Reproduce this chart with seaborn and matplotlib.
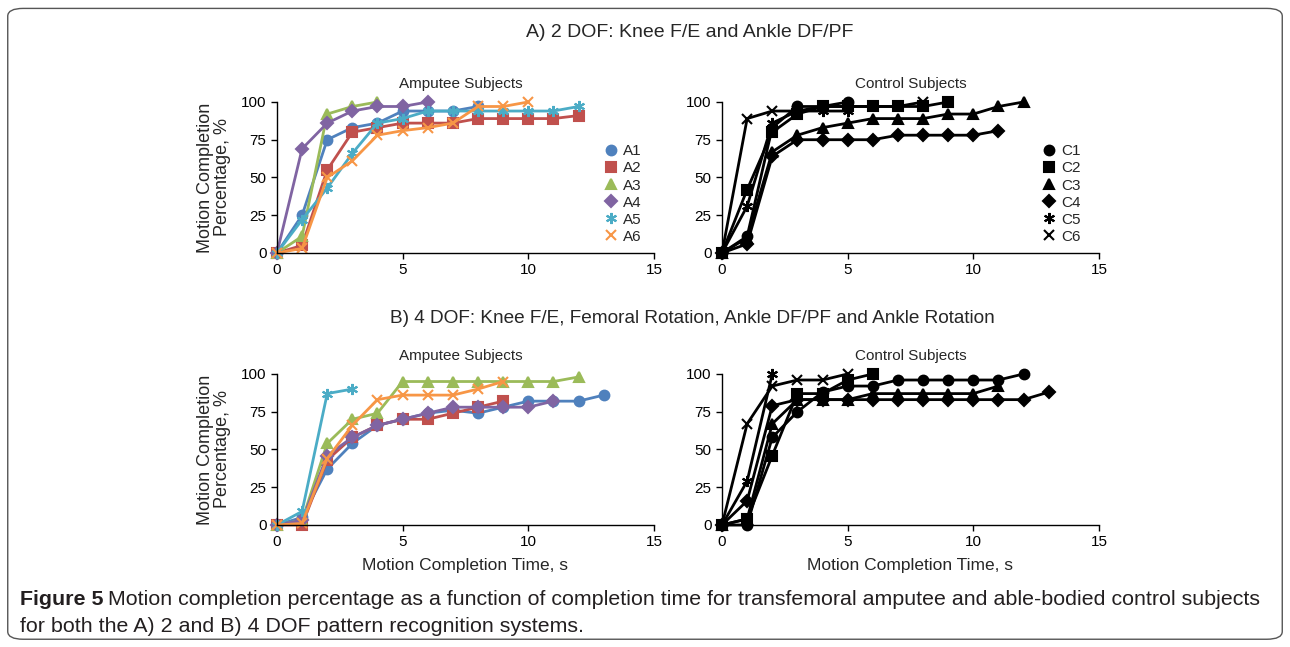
import numpy as np
import pandas as pd
import matplotlib
matplotlib.use("Agg")
import matplotlib.pyplot as plt
import seaborn as sns
from matplotlib.lines import Line2D
from matplotlib.patches import FancyBboxPatch

sns.set_style("white")
plt.rcParams['font.family'] = ['Liberation Sans', 'DejaVu Sans']

# Dados (tempo em s = índice, percentual de conclusão)
amp_2dof = {
    "A1": [0, 25, 75, 83, 86, 94, 94, 94, 97],
    "A2": [0, 5, 55, 80, 83, 86, 86, 86, 89, 89, 89, 89, 91],
    "A3": [0, 11, 92, 97, 100],
    "A4": [0, 69, 86, 94, 97, 97, 100],
    "A5": [0, 22, 43, 66, 86, 89, 94, 94, 94, 94, 94, 94, 97],
    "A6": [0, 3, 50, 61, 78, 81, 83, 86, 97, 97, 100],
}
ctl_2dof = {
    "C1": [0, 11, 83, 97, 97, 100],
    "C2": [0, 42, 80, 92, 97, 97, 97, 97, 97, 100],
    "C3": [0, 10, 67, 78, 83, 86, 89, 89, 89, 92, 92, 97, 100],
    "C4": [0, 6, 64, 75, 75, 75, 75, 78, 78, 78, 78, 81],
    "C5": [0, 31, 86, 94, 94, 94],
    "C6": [0, 89, 94, 94, 97, 97, 97, 97, 100],
}
amp_4dof = {
    "A1": [0, 5, 37, 54, 66, 70, 74, 76, 74, 78, 82, 82, 82, 86],
    "A2": [0, 0, 43, 58, 66, 70, 70, 74, 78, 82],
    "A3": [0, 3, 54, 70, 74, 95, 95, 95, 95, 95, 95, 95, 98],
    "A4": [0, 3, 46, 58, 66, 70, 74, 78, 78, 78, 78, 82],
    "A5": [0, 9, 87, 90],
    "A6": [0, 1, 44, 66, 83, 86, 86, 86, 90, 95],
}
ctl_4dof = {
    "C1": [0, 0, 58, 75, 88, 92, 92, 96, 96, 96, 96, 96, 100],
    "C2": [0, 4, 46, 87, 87, 96, 100],
    "C3": [0, 4, 67, 83, 83, 83, 87, 87, 87, 87, 87, 92],
    "C4": [0, 16, 79, 83, 83, 83, 83, 83, 83, 83, 83, 83, 83, 88],
    "C5": [0, 29, 100],
    "C6": [0, 67, 92, 96, 96, 100],
}

amp_colors = ["#4F81BD", "#C0504D", "#9BBB59", "#8064A2", "#4BACC6", "#F79646"]
marcadores = ["o", "s", "^", "D", (6, 2, 0), "x"]
tam_marc = [7, 7, 7, 6, 8, 7]


def para_df(series):
    linhas = []
    for nome, vals in series.items():
        for t, v in enumerate(vals):
            linhas.append({"sujeito": nome, "tempo": t, "pct": v})
    return pd.DataFrame(linhas)


def desenhar(ax, series, cores, legenda_x=None):
    df = para_df(series)
    nomes = list(series.keys())
    for i, nome in enumerate(nomes):
        sub = df[df["sujeito"] == nome]
        sns.lineplot(data=sub, x="tempo", y="pct", ax=ax, color=cores[i],
                     marker=marcadores[i], markersize=tam_marc[i],
                     markeredgecolor=cores[i], markeredgewidth=1.5,
                     linewidth=2, clip_on=False, legend=False)
    ax.set_xlim(0, 15)
    ax.set_ylim(0, 100)
    ax.set_xticks([0, 5, 10, 15])
    ax.set_yticks([0, 25, 50, 75, 100])
    ax.tick_params(axis="both", labelsize=11, direction="out", length=4,
                   width=1, left=True, bottom=True, colors="black")
    sns.despine(ax=ax)
    for s in ["left", "bottom"]:
        ax.spines[s].set_color("black")
        ax.spines[s].set_linewidth(1)
    ax.set_xlabel("")
    ax.set_ylabel("")
    if legenda_x is not None:
        handles = [Line2D([], [], linestyle="none", marker=marcadores[i],
                          color=cores[i], markeredgecolor=cores[i],
                          markeredgewidth=1.5, markersize=tam_marc[i])
                   for i in range(len(nomes))]
        ax.legend(handles, nomes, loc="center left",
                  bbox_to_anchor=(legenda_x, 0.39), frameon=False, fontsize=11,
                  handletextpad=0.3, labelspacing=0.2, handlelength=1)


fig = plt.figure(figsize=(12.9, 6.47), dpi=100)

w = 0.2922
h = 0.2334
ax1 = fig.add_axes([0.2147, 0.609, w, h])
ax2 = fig.add_axes([0.5597, 0.609, w, h])
ax3 = fig.add_axes([0.2147, 0.1886, w, h])
ax4 = fig.add_axes([0.5597, 0.1886, w, h])

desenhar(ax1, amp_2dof, amp_colors, 0.83)
desenhar(ax2, ctl_2dof, ["black"] * 6, 0.81)
desenhar(ax3, amp_4dof, amp_colors)
desenhar(ax4, ctl_4dof, ["black"] * 6)

for ax in [ax1, ax3]:
    ax.set_ylabel("Motion Completion\nPercentage, %", fontsize=13, labelpad=7,
                  linespacing=1.0)
for ax in [ax3, ax4]:
    ax.set_xlabel("Motion Completion Time, s", fontsize=12.5, labelpad=6)
for ax in [ax1, ax3]:
    ax.set_title("Amputee Subjects", fontsize=11, pad=10, x=0.487)
for ax in [ax2, ax4]:
    ax.set_title("Control Subjects", fontsize=11, pad=10)

fig.text(0.535, 0.949, "A) 2 DOF: Knee F/E and Ankle DF/PF", ha="center",
         va="center", fontsize=14)
fig.text(0.537, 0.508,
         "B) 4 DOF: Knee F/E, Femoral Rotation, Ankle DF/PF and Ankle Rotation",
         ha="center", va="center", fontsize=13.7)

# Legenda da figura: "Figure 5" em negrito e o resto logo a seguir
cor_leg = "#231F20"
t_fig = fig.text(0.0155, 0.073, "Figure 5", fontsize=15.4, fontweight="bold",
                 color=cor_leg, va="center")
renderer = fig.canvas.get_renderer()
bb = t_fig.get_window_extent(renderer=renderer)
x_resto = (bb.x1 + 5) / fig.bbox.width
fig.text(x_resto, 0.073,
         "Motion completion percentage as a function of completion time for transfemoral amputee and able-bodied control subjects",
         fontsize=15.4, color=cor_leg, va="center")
fig.text(0.0155, 0.031, "for both the A) 2 and B) 4 DOF pattern recognition systems.",
         fontsize=15.4, color=cor_leg, va="center")

borda = FancyBboxPatch((0.006, 0.012), 0.988, 0.975,
                       boxstyle="round,pad=0,rounding_size=0.012",
                       transform=fig.transFigure, fill=False,
                       edgecolor="#555555", linewidth=1)
fig.patches.append(borda)

fig.savefig("out.png", dpi=100)
